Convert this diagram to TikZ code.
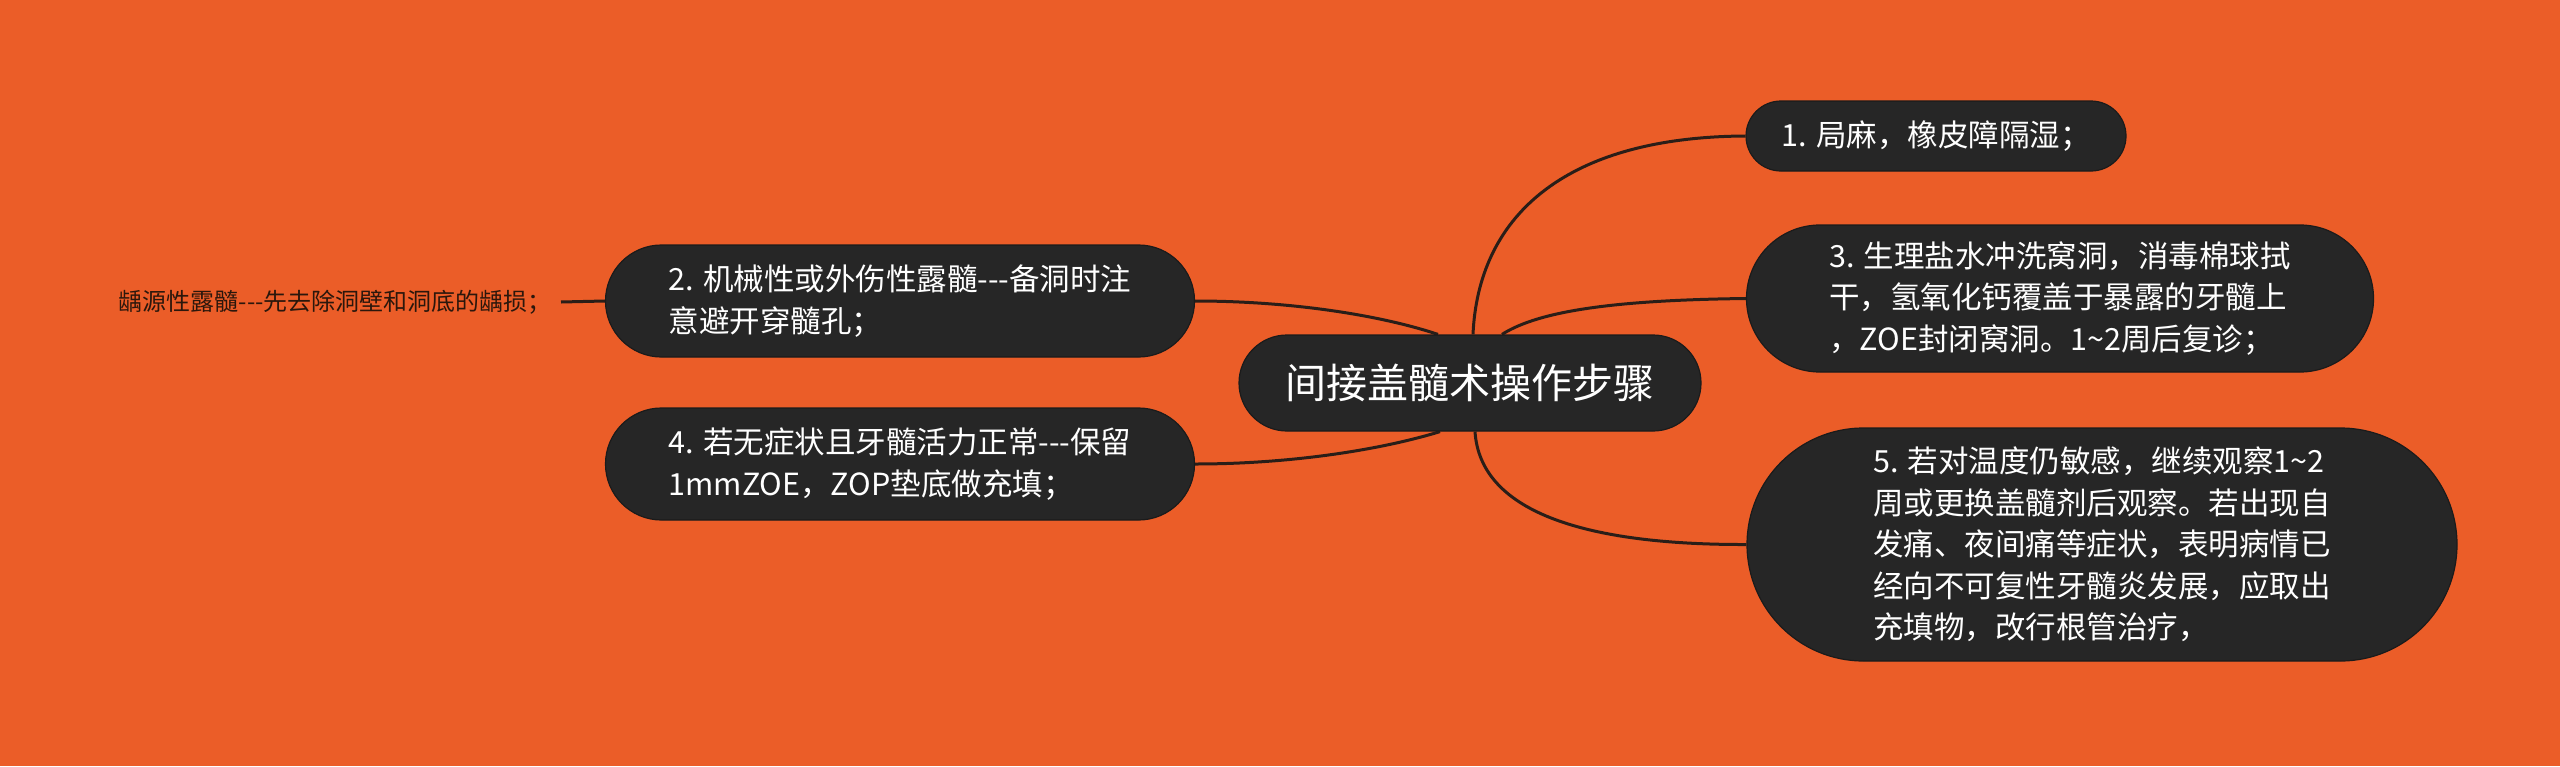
\documentclass[tikz,border=0pt]{standalone}
\usepackage{fontspec}
\newfontfamily\cjk{Noto Sans CJK SC}
\usetikzlibrary{backgrounds}
\definecolor{bgorange}{HTML}{EB5D28}
\definecolor{nodefill}{HTML}{262626}
\definecolor{nodeedge}{HTML}{1B1B1B}
\definecolor{linecol}{HTML}{2A1E18}
\definecolor{leaftext}{HTML}{2B170C}
\begin{document}
\begin{tikzpicture}[x=1pt,y=-1pt,
  pill/.style={draw=nodeedge, line width=1.2pt, fill=nodefill, text=white, inner sep=0pt, align=left, font=\cjk\fontsize{30.5}{41.5}\selectfont},
  link/.style={draw=linecol, line width=3pt}]
\begin{scope}[on background layer]
\fill[bgorange] (0,0) rectangle (2560,766);
\end{scope}
\useasboundingbox (0,0) rectangle (2560,766);
\node[pill, minimum width=462pt, minimum height=96pt, rounded corners=48pt, font=\cjk\fontsize{41}{50}\selectfont] (c) at (1470,383) {间接盖髓术操作步骤};
\node[pill, minimum width=380pt, minimum height=70pt, rounded corners=35pt] (n1) at (1936,136) {1. 局麻，橡皮障隔湿；};
\node[pill, minimum width=627pt, minimum height=147pt, rounded corners=73.5pt] (n3) at (2060,298.5) {3. 生理盐水冲洗窝洞，消毒棉球拭\\干，氢氧化钙覆盖于暴露的牙髓上\\，ZOE封闭窝洞。1\textasciitilde2周后复诊；};
\node[pill, minimum width=710pt, minimum height=233pt, rounded corners=116.5pt] (n5) at (2102,544.5) {5. 若对温度仍敏感，继续观察1\textasciitilde2\\周或更换盖髓剂后观察。若出现自\\发痛、夜间痛等症状，表明病情已\\经向不可复性牙髓炎发展，应取出\\充填物，改行根管治疗，};
\node[pill, minimum width=589pt, minimum height=112pt, rounded corners=56pt] (n2) at (900,301) {2. 机械性或外伤性露髓-\kern0pt-\kern0pt-备洞时注\\意避开穿髓孔；};
\node[pill, minimum width=589pt, minimum height=112pt, rounded corners=56pt] (n4) at (900,464) {4. 若无症状且牙髓活力正常-\kern0pt-\kern0pt-保留\\1mmZOE，ZOP垫底做充填；};
\node[font=\cjk\fontsize{24}{30}\selectfont, text=leaftext, inner xsep=9pt, inner ysep=0pt, anchor=east] (lt) at (561,302) {龋源性露髓-\kern0pt-\kern0pt-先去除洞壁和洞底的龋损；};
\begin{scope}[on background layer]
\draw[link] ([xshift=3pt]c.north) .. controls (1478,220) and (1560,137) .. (n1.west);
\draw[link] ([xshift=32pt]c.north) .. controls (1540,310) and (1620,300) .. (n3.west);
\draw[link] ([xshift=5pt]c.south) .. controls (1480,510) and (1580,545) .. (n5.west);
\draw[link] (n2.east) .. controls (1290,301) and (1380,315) .. ([xshift=-32pt]c.north);
\draw[link] (n4.east) .. controls (1290,464) and (1380,450) .. ([xshift=-30pt]c.south);
\draw[link] (lt.east) -- (n2.west);
\end{scope}
\end{tikzpicture}
\end{document}
